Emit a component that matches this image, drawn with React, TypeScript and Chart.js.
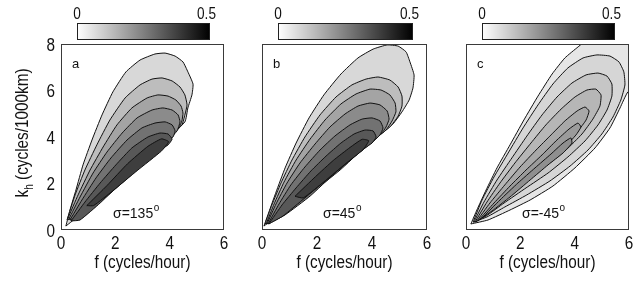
import React, { useEffect, useRef } from 'react';
import { Chart, registerables } from 'chart.js';

Chart.register(...registerables);

type Pt = [number, number];

// ---------- data ----------
const xTicks = [0, 2, 4, 6];
const yTicks = [0, 2, 4, 6, 8];
const colorbarTicks = [0, 0.5];
const panelLetters = ['a', 'b', 'c'];
const sigmaLabels = ['σ=135', 'σ=45', 'σ=-45'];
const sigmaSup = 'o';
const xTitle = 'f (cycles/hour)';
const yTitleMain = 'k';
const yTitleSub = 'h';
const yTitleRest = ' (cycles/1000km)';

// contour polygons (f cycles/hour, kh cycles/1000km), outermost level first
const panelAContours: Pt[][] = [
  [[0.18,0.17],[0.33,0.86],[0.55,1.72],[0.81,2.80],[1.14,3.87],[1.51,4.95],[1.91,5.94],[2.39,6.80],[2.91,7.31],[3.46,7.57],[3.83,7.61],[4.20,7.48],[4.49,7.23],[4.64,6.88],[4.86,6.28],[4.82,5.81],[4.67,5.25],[4.56,4.65],[3.64,3.61],[2.54,2.49],[1.44,1.38],[0.70,0.65]],
  [[0.22,0.43],[0.52,1.51],[0.88,2.58],[1.32,3.66],[1.80,4.73],[2.36,5.68],[2.91,6.24],[3.35,6.49],[3.72,6.54],[4.09,6.41],[4.38,6.15],[4.56,5.81],[4.64,5.38],[4.56,4.95],[4.45,4.52],[3.64,3.57],[2.54,2.45],[1.44,1.33],[0.70,0.60]],
  [[0.26,0.52],[0.63,1.51],[1.07,2.58],[1.55,3.57],[2.06,4.52],[2.61,5.25],[3.17,5.68],[3.57,5.81],[3.94,5.76],[4.23,5.59],[4.42,5.33],[4.49,5.03],[4.45,4.69],[4.34,4.39],[3.64,3.53],[2.54,2.41],[1.44,1.29],[0.70,0.56]],
  [[0.29,0.47],[0.70,1.42],[1.18,2.45],[1.69,3.35],[2.25,4.17],[2.80,4.82],[3.35,5.16],[3.75,5.25],[4.09,5.16],[4.31,4.95],[4.38,4.65],[4.27,4.26],[3.64,3.48],[2.54,2.37],[1.44,1.25],[0.70,0.52]],
  [[0.33,0.43],[0.77,1.29],[1.29,2.24],[1.84,3.10],[2.43,3.87],[2.98,4.39],[3.46,4.60],[3.83,4.65],[4.09,4.52],[4.20,4.26],[4.12,4.00],[3.46,3.35],[2.54,2.32],[1.44,1.20],[0.70,0.47]],
  [[0.37,0.39],[0.88,1.20],[1.44,2.02],[2.02,2.80],[2.61,3.53],[3.20,4.00],[3.64,4.17],[3.94,4.13],[4.09,3.91],[3.94,3.66],[3.28,3.14],[2.36,2.19],[1.44,1.16],[0.70,0.43]],
  [[0.95,1.05],[1.70,1.92],[2.45,2.85],[3.20,3.60],[3.70,3.92],[3.96,3.80],[3.70,3.40],[2.80,2.55],[1.90,1.68],[1.20,1.05]],
];

const panelBContours: Pt[][] = [
  [[0.07,0.17],[0.25,0.77],[0.51,1.63],[0.84,2.67],[1.24,3.74],[1.71,4.82],[2.25,5.81],[2.87,6.71],[3.49,7.40],[4.04,7.78],[4.55,7.96],[4.95,7.91],[5.24,7.66],[5.38,7.23],[5.53,6.67],[5.49,6.11],[5.35,5.59],[5.09,5.08],[4.76,4.56],[3.93,3.78],[2.84,2.75],[1.75,1.72],[0.84,0.86]],
  [[0.11,0.26],[0.36,1.08],[0.69,2.02],[1.09,3.01],[1.56,4.00],[2.11,4.95],[2.69,5.72],[3.27,6.24],[3.78,6.49],[4.22,6.58],[4.65,6.45],[4.95,6.15],[5.09,5.76],[5.09,5.33],[4.95,4.90],[4.65,4.43],[3.85,3.70],[2.84,2.71],[1.75,1.68],[0.84,0.82]],
  [[0.15,0.26],[0.44,1.12],[0.80,2.06],[1.24,3.01],[1.75,3.91],[2.29,4.73],[2.87,5.42],[3.42,5.85],[3.93,6.06],[4.33,6.02],[4.65,5.81],[4.84,5.46],[4.87,5.08],[4.73,4.69],[4.51,4.30],[3.78,3.61],[2.84,2.67],[1.75,1.63],[0.84,0.77]],
  [[0.18,0.26],[0.51,1.12],[0.91,2.02],[1.38,2.88],[1.93,3.70],[2.47,4.43],[3.02,4.99],[3.49,5.33],[3.93,5.46],[4.29,5.38],[4.55,5.12],[4.62,4.77],[4.51,4.43],[4.33,4.13],[3.71,3.53],[2.84,2.58],[1.75,1.55],[0.84,0.69]],
  [[0.22,0.26],[0.62,1.12],[1.05,1.94],[1.56,2.71],[2.11,3.44],[2.65,4.04],[3.20,4.52],[3.64,4.77],[4.00,4.82],[4.29,4.69],[4.40,4.39],[4.29,4.09],[4.07,3.83],[3.38,3.18],[2.65,2.45],[1.75,1.46],[0.84,0.65]],
  [[0.25,0.26],[0.73,1.08],[1.24,1.81],[1.78,2.54],[2.33,3.18],[2.87,3.74],[3.35,4.13],[3.75,4.30],[4.04,4.26],[4.15,4.00],[4.00,3.74],[3.75,3.53],[3.20,3.01],[2.47,2.28],[1.56,1.38],[0.76,0.60]],
  [[1.20,1.45],[1.95,2.30],[2.60,3.00],[3.20,3.55],[3.64,3.90],[3.88,3.84],[3.68,3.46],[3.05,2.86],[2.30,2.12],[1.50,1.38]],
];

const panelCContours: Pt[][] = [
  [[0.18,0.26],[0.40,0.86],[0.74,1.72],[1.14,2.67],[1.62,3.66],[2.13,4.73],[2.65,5.76],[3.17,6.71],[3.64,7.40],[4.12,7.87],[4.56,8.26],[6.40,8.60],[6.40,6.20],[5.96,5.94],[5.67,5.25],[5.30,4.39],[4.75,3.53],[4.01,2.67],[3.20,1.89],[2.36,1.29],[1.62,0.86],[0.81,0.43]],
  [[0.26,0.34],[0.59,1.29],[1.03,2.28],[1.55,3.31],[2.10,4.39],[2.65,5.38],[3.20,6.28],[3.75,6.97],[4.31,7.40],[4.82,7.53],[5.30,7.48],[5.63,7.23],[5.81,6.80],[5.85,6.24],[5.70,5.59],[5.41,4.86],[5.00,4.13],[4.49,3.44],[3.83,2.75],[3.09,2.11],[2.24,1.51],[1.43,0.99],[0.77,0.56]],
  [[0.29,0.34],[0.66,1.20],[1.14,2.15],[1.69,3.10],[2.24,4.04],[2.80,4.95],[3.35,5.72],[3.90,6.32],[4.42,6.67],[4.86,6.75],[5.19,6.62],[5.37,6.28],[5.37,5.76],[5.19,5.16],[4.86,4.52],[4.38,3.83],[3.75,3.14],[3.02,2.45],[2.21,1.81],[1.40,1.16],[0.74,0.60]],
  [[0.33,0.34],[0.77,1.20],[1.25,2.02],[1.80,2.88],[2.39,3.74],[2.94,4.52],[3.50,5.20],[4.01,5.72],[4.45,6.02],[4.78,6.06],[4.97,5.81],[4.93,5.33],[4.67,4.77],[4.27,4.13],[3.68,3.44],[2.94,2.75],[2.13,2.02],[1.36,1.29],[0.74,0.65]],
  [[0.37,0.34],[0.88,1.16],[1.43,1.94],[1.99,2.71],[2.58,3.44],[3.13,4.09],[3.64,4.69],[4.09,5.12],[4.38,5.29],[4.53,5.12],[4.42,4.73],[4.12,4.26],[3.61,3.66],[2.91,2.92],[2.10,2.15],[1.32,1.38],[0.70,0.65]],
  [[0.44,0.39],[1.03,1.16],[1.62,1.89],[2.21,2.58],[2.80,3.23],[3.31,3.83],[3.79,4.34],[4.12,4.60],[4.23,4.43],[4.05,4.09],[3.64,3.57],[3.02,2.97],[2.28,2.28],[1.51,1.51],[0.81,0.73]],
  [[0.59,0.52],[1.25,1.29],[1.91,2.02],[2.54,2.67],[3.13,3.27],[3.57,3.74],[3.86,3.96],[3.90,3.74],[3.57,3.31],[3.02,2.80],[2.36,2.15],[1.62,1.42],[0.96,0.82]],
];

const levelColorsAB = ['#d8d8d8', '#bdbdbd', '#a4a4a4', '#8b8b8b', '#727272', '#585858', '#3e3e3e'];
const levelColorsC = ['#e6e6e6', '#d6d6d6', '#c6c6c6', '#b6b6b6', '#a8a8a8', '#9b9b9b', '#8f8f8f'];

// ---------- styling / layout ----------
const FONT = "'Liberation Sans', Arial, sans-serif";
const NARROW = 0.85;
const H = 281;

interface PanelCfg {
  idx: number;
  left: number;
  width: number;
  plotLeft: number;
  plotRight: number;
  contours: Pt[][];
  colors: string[];
  showY: boolean;
  sigmaOffset: number;
}

const panels: PanelCfg[] = [
  { idx: 0, left: 0, width: 235, plotLeft: 61, plotRight: 224, contours: panelAContours, colors: levelColorsAB, showY: true, sigmaOffset: 52 },
  { idx: 1, left: 235, width: 200, plotLeft: 27, plotRight: 192, contours: panelBContours, colors: levelColorsAB, showY: false, sigmaOffset: 61 },
  { idx: 2, left: 435, width: 208, plotLeft: 31, plotRight: 194, contours: panelCContours, colors: levelColorsC, showY: false, sigmaOffset: 56 },
];

function narrowText(ctx: CanvasRenderingContext2D, text: string, x: number, y: number, size: number, align: CanvasTextAlign) {
  ctx.save();
  ctx.translate(x, y);
  ctx.scale(NARROW, 1);
  ctx.font = `${size}px ${FONT}`;
  ctx.textAlign = align;
  ctx.textBaseline = 'alphabetic';
  ctx.fillText(text, 0, 0);
  ctx.restore();
}

function makeOverlay(cfg: PanelCfg) {
  return {
    id: 'overlay' + cfg.idx,
    afterDraw(chart: any) {
      const { ctx, chartArea: ca } = chart;
      const xs = chart.scales.x;
      const ys = chart.scales.y;
      ctx.save();
      // frame
      ctx.strokeStyle = '#3a3a3a';
      ctx.lineWidth = 1;
      ctx.strokeRect(Math.round(ca.left) + 0.5, Math.round(ca.top) + 0.5, Math.round(ca.right - ca.left) - 1, Math.round(ca.bottom - ca.top) - 1);

      ctx.fillStyle = '#111';
      // x tick labels
      xs.ticks.forEach((t: any) => {
        narrowText(ctx, String(t.value), xs.getPixelForValue(t.value), 249, 18, 'center');
      });
      // x title
      narrowText(ctx, xTitle, (ca.left + ca.right) / 2, 268, 18, 'center');
      // y tick labels
      if (cfg.showY) {
        ys.ticks.forEach((t: any) => {
          narrowText(ctx, String(t.value), 55, ys.getPixelForValue(t.value) + 6.5, 18, 'right');
        });
      }

      // colorbar
      const bx0 = Math.round(ca.left) + 16;
      const bx1 = Math.round(ca.right) - 14;
      const by0 = 23;
      const by1 = 40;
      const g = ctx.createLinearGradient(bx0, 0, bx1, 0);
      g.addColorStop(0, '#ffffff');
      g.addColorStop(1, '#000000');
      ctx.fillStyle = g;
      ctx.fillRect(bx0, by0, bx1 - bx0, by1 - by0);
      ctx.strokeStyle = '#222';
      ctx.strokeRect(bx0 + 0.5, by0 + 0.5, bx1 - bx0 - 1, by1 - by0 - 1);
      const cbMax = colorbarTicks[colorbarTicks.length - 1];
      ctx.fillStyle = '#111';
      colorbarTicks.forEach((v) => {
        const fr = v / cbMax;
        narrowText(ctx, String(v), bx0 + fr * (bx1 - bx0) - fr * 3.5, 18.5, 16, 'center');
      });

      // panel letter
      ctx.font = `13px ${FONT}`;
      ctx.textAlign = 'left';
      ctx.textBaseline = 'alphabetic';
      ctx.fillText(panelLetters[cfg.idx], ca.left + 11, 68);

      // sigma label
      ctx.font = `14px ${FONT}`;
      const sx = ca.left + cfg.sigmaOffset;
      const s = sigmaLabels[cfg.idx];
      ctx.fillText(s, sx, 218);
      const sw = ctx.measureText(s).width;
      ctx.font = `10px ${FONT}`;
      ctx.fillText(sigmaSup, sx + sw + 0.5, 211);

      // y title
      if (cfg.showY) {
        ctx.save();
        ctx.translate(28, 133);
        ctx.rotate(-Math.PI / 2);
        ctx.scale(NARROW, 1);
        ctx.textAlign = 'left';
        ctx.font = `18px ${FONT}`;
        const wk = ctx.measureText(yTitleMain).width;
        const wr = ctx.measureText(yTitleRest).width;
        ctx.font = `12px ${FONT}`;
        const wh = ctx.measureText(yTitleSub).width;
        let x0 = -(wk + wh + wr) / 2;
        ctx.font = `18px ${FONT}`;
        ctx.fillText(yTitleMain, x0, 0);
        x0 += wk;
        ctx.font = `12px ${FONT}`;
        ctx.fillText(yTitleSub, x0, 5);
        x0 += wh;
        ctx.font = `18px ${FONT}`;
        ctx.fillText(yTitleRest, x0, 0);
        ctx.restore();
      }
      ctx.restore();
    },
  };
}

function Panel({ cfg }: { cfg: PanelCfg }) {
  const ref = useRef<HTMLCanvasElement>(null);
  useEffect(() => {
    const canvas = ref.current;
    if (!canvas) return;
    const n = cfg.contours.length;
    const datasets = cfg.contours.map((poly, i) => ({
      data: [...poly, poly[0]].map(([x, y]) => ({ x, y })),
      fill: 'shape',
      backgroundColor: cfg.colors[i],
      borderColor: '#111',
      borderWidth: 1,
      pointRadius: 0,
      tension: 0.15,
      order: n - i,
    }));
    const chart = new Chart(canvas, {
      type: 'line',
      data: { datasets } as any,
      options: {
        animation: false,
        responsive: false,
        events: [],
        layout: {
          padding: { top: 44, left: 0, right: cfg.width - cfg.plotRight, bottom: 0 },
        },
        plugins: { legend: { display: false }, tooltip: { enabled: false } },
        scales: {
          x: {
            type: 'linear',
            min: xTicks[0],
            max: xTicks[xTicks.length - 1],
            afterBuildTicks: (s: any) => { s.ticks = xTicks.map((v) => ({ value: v })); },
            afterFit: (s: any) => { s.height = 51; },
            grid: { display: false, drawTicks: false },
            border: { display: false },
            ticks: { display: false },
          },
          y: {
            type: 'linear',
            display: true,
            min: yTicks[0],
            max: yTicks[yTicks.length - 1],
            afterBuildTicks: (s: any) => { s.ticks = yTicks.map((v) => ({ value: v })); },
            afterFit: (s: any) => { s.width = cfg.plotLeft; },
            grid: { display: false, drawTicks: false },
            border: { display: false },
            ticks: { display: false },
          },
        },
      } as any,
      plugins: [makeOverlay(cfg)],
    });
    return () => chart.destroy();
  }, [cfg]);
  return (
    <canvas
      ref={ref}
      width={cfg.width}
      height={H}
      style={{ position: 'absolute', left: cfg.left, top: 0, width: cfg.width, height: H }}
    />
  );
}

export default function App() {
  return (
    <div style={{ position: 'absolute', left: 0, top: 0, width: 643, height: H, background: '#fff' }}>
      {panels.map((p) => (
        <Panel key={p.idx} cfg={p} />
      ))}
    </div>
  );
}
